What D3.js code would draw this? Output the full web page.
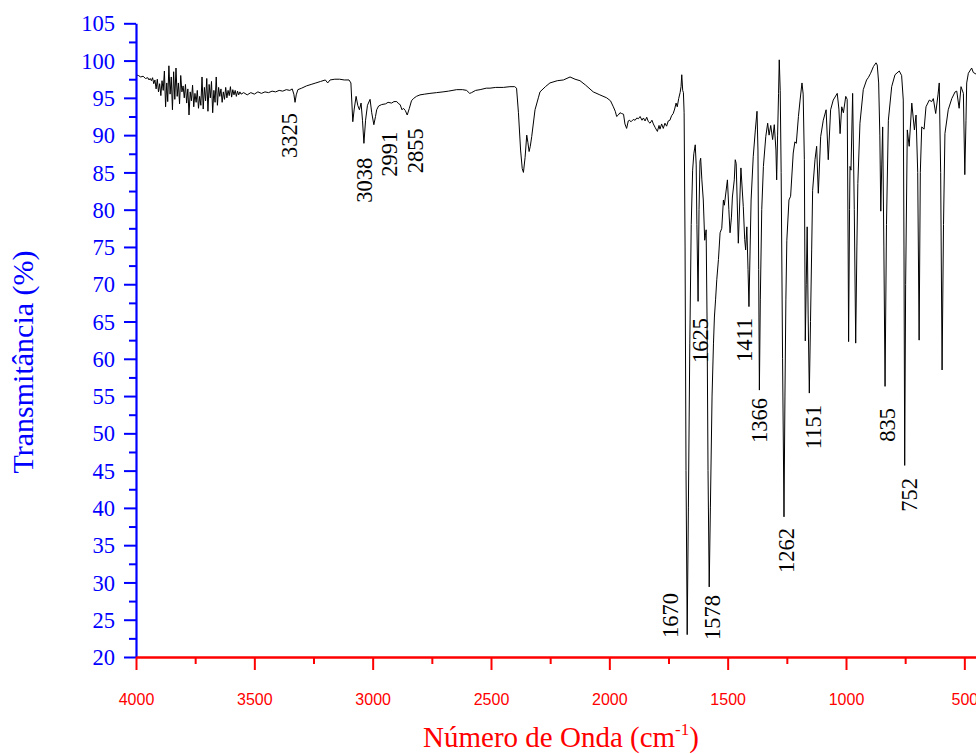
<!DOCTYPE html>
<html><head><meta charset="utf-8">
<script src="https://cdn.jsdelivr.net/npm/d3@7"></script>
<style>body{margin:0;background:#fff;}svg{display:block;}</style>
</head><body>
<svg id="chart" width="976" height="754"></svg>
<script>
// ---- data ----
const xMajorTicks = [4000, 3500, 3000, 2500, 2000, 1500, 1000, 500];
const xMinorTicks = [3750, 3250, 2750, 2250, 1750, 1250, 750];
const yMajorTicks = [20, 25, 30, 35, 40, 45, 50, 55, 60, 65, 70, 75, 80, 85, 90, 95, 100, 105];
const yMinorTicks = [22.5, 27.5, 32.5, 37.5, 42.5, 47.5, 52.5, 57.5, 62.5, 67.5, 72.5, 77.5, 82.5, 87.5, 92.5, 97.5, 102.5];

// [wavenumber (cm-1), transmittance (%)]
const spectrum = [
[4000,98.1],[3990,98.0],[3980,97.8],[3970,97.9],[3960,97.6],[3950,97.7],[3945,97.4],
[3940,97.6],[3935,97.3],[3930,97.7],[3925,96.9],[3920,97.4],[3915,96.2],[3910,97.5],[3905,95.8],[3900,96.9],[3895,95.3],[3890,97.3],[3885,96.0],[3880,98.6],[3875,93.8],[3870,97.0],[3866,94.5],[3861,99.3],[3856,95.5],[3851,97.8],[3846,93.4],[3841,98.5],[3836,94.8],[3831,99.0],[3826,95.2],[3821,97.0],[3816,94.2],[3811,98.0],[3806,95.8],[3801,96.6],[3796,95.0],[3791,96.8],[3786,94.3],[3781,96.2],[3776,92.7],[3771,95.8],[3766,94.6],[3761,96.7],[3756,93.8],[3751,95.6],[3746,94.4],[3741,96.0],[3736,93.6],[3731,95.2],[3726,94.0],[3721,97.8],[3716,93.5],[3711,96.4],[3706,94.6],[3701,97.6],[3696,93.2],[3691,96.8],[3686,95.0],[3681,97.2],[3676,93.0],[3671,96.0],[3666,94.4],[3661,97.8],[3656,94.0],[3651,96.4],[3646,95.2],[3641,96.2],[3636,94.4],[3631,95.8],[3626,94.8],[3621,96.4],[3616,95.0],[3611,96.0],[3606,95.3],[3601,96.5],[3596,95.1],[3591,96.1],[3586,95.4],[3581,96.0],[3576,95.2],[3571,95.9],[3566,95.4],[3561,95.8],[3556,95.5],
[3545,95.7],[3530,95.4],[3515,95.7],[3500,95.5],[3485,95.8],[3470,95.6],[3455,95.8],[3440,95.7],[3425,95.9],[3410,95.8],[3395,96.0],[3380,95.9],[3365,96.1],[3350,96.0],[3340,96.2],[3333,95.5],[3328,94.4],[3323,95.4],[3316,96.1],[3300,96.3],[3280,96.6],[3260,96.8],[3240,97.0],[3220,97.2],[3200,97.4],[3190,97.0],[3180,97.4],[3160,97.5],[3140,97.5],[3120,97.4],[3100,97.4],[3092,97.0],
[3084,91.8],[3078,93.5],[3070,95.2],[3063,94.0],[3056,93.4],[3049,94.3],[3043,92.0],[3037,88.9],[3030,92.0],[3022,94.0],[3011,94.8],[3004,93.0],[2995,91.4],[2988,92.5],[2983,93.4],[2975,93.9],[2962,94.1],[2945,94.2],[2935,94.4],[2920,94.3],[2910,94.5],[2898,94.5],[2890,94.2],[2884,94.1],[2876,93.4],[2870,93.6],[2862,93.3],[2854,92.7],[2845,93.6],[2836,94.6],[2828,94.9],[2815,95.2],[2800,95.4],[2780,95.5],[2758,95.6],[2730,95.7],[2703,95.8],[2680,95.9],[2645,96.1],[2620,96.1],[2603,96.0],[2590,95.6],[2582,95.7],[2565,96.0],[2546,96.1],[2520,96.3],[2504,96.3],[2480,96.4],[2448,96.4],[2420,96.5],[2400,96.5],[2392,96.3],
[2384,93.0],[2375,88.0],[2368,85.5],[2363,85.0],[2356,87.0],[2349,90.0],[2344,89.0],[2339,87.8],[2334,88.5],[2328,89.8],[2314,93.4],[2300,95.0],[2293,95.8],[2270,96.5],[2251,97.0],[2220,97.3],[2194,97.4],[2166,97.8],[2145,97.5],[2124,97.3],[2100,96.7],[2068,95.8],[2040,95.4],[2011,95.0],[1995,94.6],[1983,93.8],[1975,93.2],[1969,92.5],[1962,92.7],[1955,93.0],[1948,92.9],[1940,92.8],[1934,91.5],[1927,90.9],[1920,91.9],[1916,92.0],[1908,91.8],[1899,92.1],[1891,92.0],[1884,92.3],[1877,92.2],[1870,92.5],[1862,92.0],[1856,92.3],[1849,91.9],[1842,92.4],[1835,91.8],[1828,91.6],[1820,92.0],[1814,91.5],[1806,91.0],[1797,90.5],[1790,91.3],[1786,90.8],[1779,91.5],[1772,90.9],[1765,91.6],[1758,91.2],[1751,91.9],[1744,92.0],[1737,92.6],[1730,92.9],[1724,93.5],[1718,94.3],[1713,93.8],[1707,94.9],[1701,95.7],[1697,96.5],[1694,98.1],[1690,96.0],[1687,95.7],
[1684,93.0],[1680,75.0],[1676,45.0],[1671,23.0],[1666,40.0],[1660,62.0],[1654,78.0],[1648,85.3],[1643,87.5],[1637,88.7],[1633,86.0],[1630,78.0],[1625,67.7],[1621,80.0],[1617,86.5],[1614,86.9],[1609,84.0],[1603,81.3],[1597,75.9],[1594,76.5],[1591,77.3],[1587,65.0],[1583,45.0],[1578,29.4],[1573,40.0],[1566,55.0],[1560,62.0],[1556,65.6],[1551,68.0],[1546,70.6],[1539,73.3],[1532,76.9],[1525,77.5],[1518,81.3],[1514,80.6],[1501,84.0],[1495,80.0],[1490,76.9],[1484,79.0],[1480,81.7],[1472,84.0],[1468,86.7],[1464,86.2],[1455,75.5],[1444,85.6],[1434,80.4],[1428,76.0],[1424,74.6],[1419,77.7],[1414,72.0],[1410,67.0],[1405,75.0],[1401,81.3],[1392,87.1],[1383,90.7],[1376,93.2],[1372,88.0],[1369,72.0],[1366,55.8],[1362,68.0],[1356,80.0],[1349,85.8],[1339,89.8],[1331,91.6],[1325,90.0],[1318,91.3],[1310,89.4],[1303,91.4],[1296,88.0],[1293,84.0],[1289,90.0],[1285,95.6],[1282,100.1],[1278,96.0],[1274,85.0],[1268,60.0],[1262,38.8],[1258,55.0],[1254,68.0],[1250,75.9],[1241,81.3],[1234,81.8],[1223,87.6],[1216,89.1],[1210,88.9],[1201,92.5],[1194,94.7],[1186,97.0],[1181,95.5],[1176,86.7],[1172,62.4],[1168,70.0],[1164,77.7],[1160,66.0],[1155,55.4],[1150,65.0],[1145,74.6],[1141,82.6],[1131,86.7],[1124,88.5],[1117,82.2],[1107,89.8],[1096,92.0],[1084,93.4],[1075,86.7],[1065,93.4],[1054,94.7],[1037,95.6],[1030,93.5],[1025,90.2],[1018,93.8],[1011,93.0],[1001,95.2],[995,94.8],[991,75.0],[989,62.3],[985,80.0],[983,85.8],[979,85.3],[972,95.6],[965,80.0],[959,62.1],[954,75.0],[950,83.5],[941,91.6],[927,96.1],[913,97.4],[906,97.7],[896,98.3],[884,99.2],[873,99.7],[868,99.4],[862,97.0],[857,90.0],[853,79.8],[849,86.0],[845,91.1],[840,75.0],[835,56.3],[829,78.0],[821,92.0],[807,96.5],[793,98.1],[775,98.6],[765,98.0],[758,94.7],[755,75.0],[752,45.7],[748,70.0],[741,90.7],[733,88.5],[722,94.3],[711,90.7],[704,92.7],[697,85.0],[691,62.5],[686,85.0],[680,91.1],[670,90.8],[662,93.8],[648,94.7],[638,94.5],[631,94.9],[621,92.9],[611,95.5],[606,97.0],[600,85.0],[594,58.5],[588,78.0],[582,90.2],[568,93.4],[553,94.9],[539,95.8],[532,95.9],[522,93.6],[514,96.5],[504,95.6],[498,84.7],[493,92.0],[490,97.0],[483,98.3],[469,99.0],[462,98.4],[451,98.2],[440,98.4],[420,98.5],[400,98.6]
];

// peak annotations: label text, anchor wavenumber, anchor transmittance (top of text)
const peakLabels = ["3325", "3038", "2991", "2855", "1670", "1578", "1625", "1411", "1366", "1262", "1151", "835", "752"];
const peakLabelWn = [3320, 3001, 2899, 2789, 1708, 1532, 1583, 1397, 1334, 1220, 1106, 793, 700];
const peakLabelT = [92.97, 86.95, 90.47, 90.92, 28.59, 28.32, 65.48, 65.48, 54.74, 37.30, 53.80, 53.40, 44.01];

const xTitle = "Número de Onda (cm";
const xTitleSup = "-1";
const yTitle = "Transmitância (%)";

// ---- drawing ----
const svg = d3.select("#chart");
const x = d3.scaleLinear().domain([4000, 400]).range([136, 988]);
const y = d3.scaleLinear().domain([20, 105]).range([657, 23.3]);

const BLUE = "#0000ff", RED = "#ff0000";
const SERIF = "'Liberation Serif', 'Times New Roman', Times, serif";

// spectrum line
svg.append("path")
  .datum(spectrum)
  .attr("fill", "none")
  .attr("stroke", "#000")
  .attr("stroke-width", 1)
  .attr("stroke-linejoin", "round")
  .attr("d", d3.line().x(d => x(d[0])).y(d => y(d[1])));

// peak labels
svg.append("g").selectAll("text")
  .data(peakLabels)
  .join("text")
  .attr("transform", (d, i) => `translate(${x(peakLabelWn[i])},${y(peakLabelT[i])}) rotate(-90)`)
  .attr("text-anchor", "end")
  .style("font-family", SERIF)
  .style("font-size", "22.5px")
  .attr("fill", "#000")
  .text(d => d);

// Y axis
const gyMinor = svg.append("g").attr("transform", "translate(136,0)")
  .call(d3.axisLeft(y).tickValues(yMinorTicks).tickSize(7).tickSizeOuter(0).tickFormat(""));
gyMinor.select(".domain").remove();
gyMinor.selectAll("line").attr("stroke", BLUE).attr("stroke-width", 2);

const gy = svg.append("g").attr("transform", "translate(136,0)")
  .call(d3.axisLeft(y).tickValues(yMajorTicks).tickSize(12).tickSizeOuter(0).tickPadding(9).tickFormat(d3.format("d")));
gy.select(".domain").attr("stroke", BLUE).attr("stroke-width", 2.2);
gy.selectAll("line").attr("stroke", BLUE).attr("stroke-width", 2);
gy.selectAll("text")
  .attr("fill", BLUE)
  .style("font-family", SERIF)
  .style("font-size", "22.5px")
  .attr("dy", "0.34em");

// X axis
const gxMinor = svg.append("g").attr("transform", "translate(0,657)")
  .call(d3.axisBottom(x).tickValues(xMinorTicks).tickSize(7).tickSizeOuter(0).tickFormat(""));
gxMinor.select(".domain").remove();
gxMinor.selectAll("line").attr("stroke", RED).attr("stroke-width", 2);

const gx = svg.append("g").attr("transform", "translate(0,657)")
  .call(d3.axisBottom(x).tickValues(xMajorTicks).tickSize(13).tickSizeOuter(0).tickFormat(d3.format("d")));
gx.select(".domain").attr("stroke", RED).attr("stroke-width", 2.5);
gx.selectAll("line").attr("stroke", RED).attr("stroke-width", 2);
gx.selectAll("text")
  .attr("fill", RED)
  .style("font-family", "'Liberation Sans', Arial, sans-serif")
  .style("font-size", "16px")
  .attr("y", 48)
  .attr("dy", "0");

// Axis titles
const xt = svg.append("text")
  .attr("x", 561).attr("y", 747)
  .attr("text-anchor", "middle")
  .attr("fill", RED)
  .style("font-family", SERIF)
  .style("font-size", "29px");
xt.append("tspan").text(xTitle);
xt.append("tspan").style("font-size", "17px").attr("dy", -12).text(xTitleSup);
xt.append("tspan").attr("dy", 12).text(")");

svg.append("text")
  .attr("transform", "translate(33,362) rotate(-90)")
  .attr("text-anchor", "middle")
  .attr("fill", BLUE)
  .style("font-family", SERIF)
  .style("font-size", "30px")
  .text(yTitle);
</script>
</body></html>
